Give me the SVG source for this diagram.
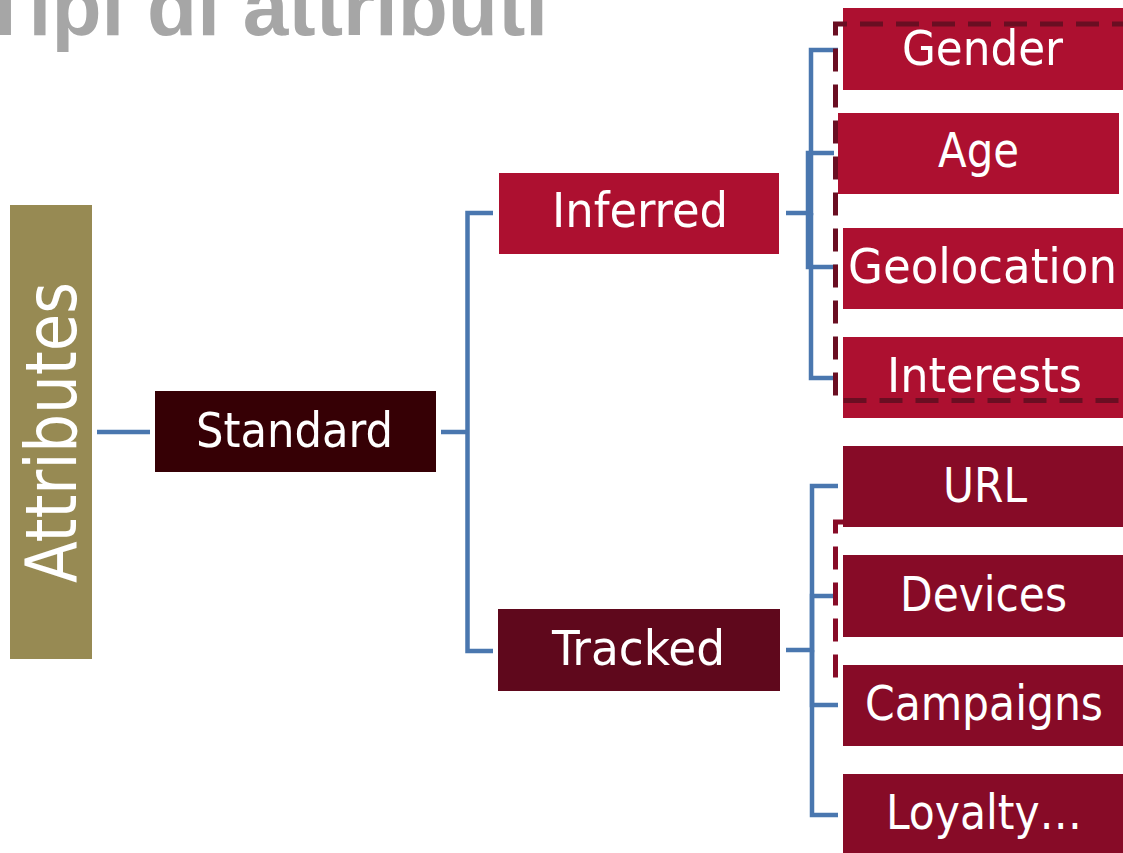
<svg xmlns="http://www.w3.org/2000/svg" width="1123" height="853" viewBox="0 0 1123 853">
<defs>
<style>
.lbl{font-family:"DejaVu Sans Condensed","DejaVu Sans",sans-serif;font-stretch:condensed;font-size:48px;fill:#ffffff;text-anchor:middle}
.conn{fill:none;stroke:#4A77AF;stroke-width:4.5;stroke-linejoin:miter}
.inf{fill:#AD1030}
.trk{fill:#870B27}
.dash{fill:none;stroke-width:5;stroke-dasharray:23 13}
</style>
</defs>
<rect width="1123" height="853" fill="#ffffff"/>
<text x="-20" y="35" textLength="568" lengthAdjust="spacingAndGlyphs" font-family="'Liberation Sans',Arial,sans-serif" font-weight="bold" font-size="82" fill="#A6A6A6">Tipi di attributi</text>

<g id="connectors">
<path class="conn" d="M97,432 H150"/>
<path class="conn" d="M441,432 H467.5 M493,213 H467.5 V651 H493"/>
<path class="conn" d="M786,213 H811 V50 H838"/>
<path class="conn" d="M808,213 V153 H834"/>
<path class="conn" d="M808,213 V267 H838"/>
<path class="conn" d="M811,213 V378 H838"/>
<path class="conn" d="M786,650 H812 V486 H838"/>
<path class="conn" d="M812,650 V596 H838"/>
<path class="conn" d="M812,650 V705 H838"/>
<path class="conn" d="M812,650 V815 H838"/>
</g>

<g id="tracked-group-outline">
<path class="dash" stroke="#870B27" d="M1135,522 H835.5 V682 H1135"/>
</g>

<g id="attributes">
<rect x="10" y="205" width="82" height="454" fill="#978A53"/>
<text class="lbl" transform="translate(76,432.5) rotate(-90)" style="font-size:72px" textLength="301" lengthAdjust="spacingAndGlyphs">Attributes</text>
</g>
<g id="standard">
<rect x="155" y="391" width="281" height="81" fill="#360005"/>
<text class="lbl" x="294.5" y="447" textLength="197" lengthAdjust="spacingAndGlyphs">Standard</text>
</g>
<g id="inferred">
<rect x="499" y="173" width="280" height="81" fill="#AD1030"/>
<text class="lbl" x="640" y="227" textLength="176" lengthAdjust="spacingAndGlyphs">Inferred</text>
</g>
<g id="tracked">
<rect x="498" y="609" width="282" height="82" fill="#5F081C"/>
<text class="lbl" x="638.5" y="665" textLength="173" lengthAdjust="spacingAndGlyphs">Tracked</text>
</g>
<g id="gender">
<rect class="inf" x="843" y="8" width="280" height="82"/>
<text class="lbl" x="982.5" y="65" textLength="161" lengthAdjust="spacingAndGlyphs">Gender</text>
</g>
<g id="age">
<rect class="inf" x="838" y="113" width="281" height="81"/>
<text class="lbl" x="978.5" y="167" textLength="81" lengthAdjust="spacingAndGlyphs">Age</text>
</g>
<g id="geolocation">
<rect class="inf" x="843" y="228" width="280" height="81"/>
<text class="lbl" x="982.5" y="283" textLength="269" lengthAdjust="spacingAndGlyphs">Geolocation</text>
</g>
<g id="interests">
<rect class="inf" x="843" y="337" width="280" height="81"/>
<text class="lbl" x="984.5" y="392" textLength="195" lengthAdjust="spacingAndGlyphs">Interests</text>
</g>
<g id="url">
<rect class="trk" x="843" y="446" width="280" height="81"/>
<text class="lbl" x="985" y="502" textLength="84" lengthAdjust="spacingAndGlyphs">URL</text>
</g>
<g id="devices">
<rect class="trk" x="843" y="555" width="280" height="82"/>
<text class="lbl" x="983.5" y="611" textLength="167" lengthAdjust="spacingAndGlyphs">Devices</text>
</g>
<g id="campaigns">
<rect class="trk" x="843" y="665" width="280" height="81"/>
<text class="lbl" x="984" y="720" textLength="238" lengthAdjust="spacingAndGlyphs">Campaigns</text>
</g>
<g id="loyalty">
<rect class="trk" x="843" y="774" width="280" height="79"/>
<text class="lbl" x="984" y="829" textLength="196" lengthAdjust="spacingAndGlyphs">Loyalty…</text>
</g>

<g id="inferred-group-outline">
<path class="dash" stroke="#6A0E22" d="M1135,24 H835.5 V400.5 H1135"/>
</g>
</svg>
